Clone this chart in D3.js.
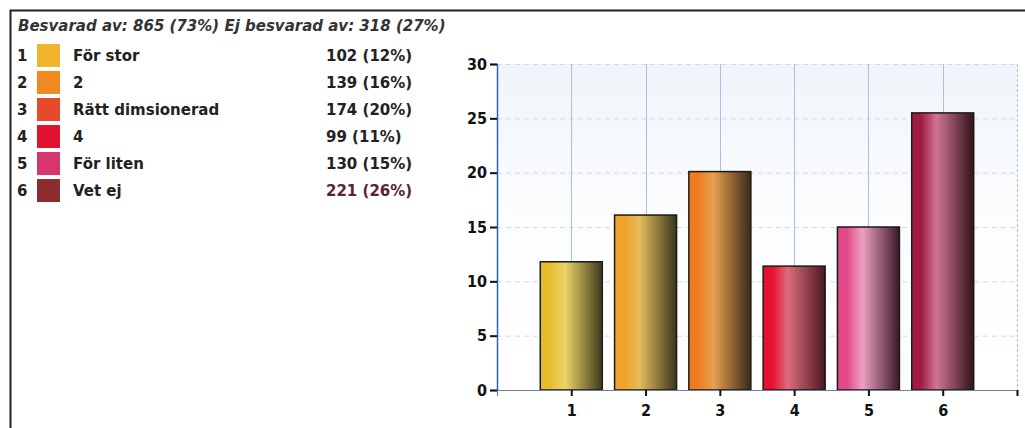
<!DOCTYPE html>
<html>
<head>
<meta charset="utf-8">
<script src="https://cdn.jsdelivr.net/npm/d3@7"></script>
<style>
  body { margin: 0; background: #fff; }
  svg { display: block; }
</style>
</head>
<body>
<div id="chart"></div>
<script>
// answer options, counts and share of answers (in %)
var categories = ['1', '2', '3', '4', '5', '6'];
var labels = ['För stor', '2', 'Rätt dimsionerad', '4', 'För liten', 'Vet ej'];
var counts = ['102 (12%)', '139 (16%)', '174 (20%)', '99 (11%)', '130 (15%)', '221 (26%)'];
var percents = [11.8, 16.1, 20.1, 11.4, 15.0, 25.5];
var yTicks = [0, 5, 10, 15, 20, 25, 30];
var title = 'Besvarad av: 865 (73%) Ej besvarad av: 318 (27%)';

var swatchColors = ['#f0b52c', '#f08a20', '#e8482c', '#e01232', '#d8346e', '#8c2c2c'];
// left / highlight / right colours for the shaded bars
var barShades = [
    ['#e6bc2c', '#ecd468', '#3c3a1c'],
    ['#f0a22a', '#e6bc5c', '#3a361c'],
    ['#f07a22', '#e6a050', '#3a2818'],
    ['#e8102e', '#dc6c7c', '#4a1820'],
    ['#e04888', '#eea0c0', '#3a1828'],
    ['#a01c40', '#d07494', '#301418']
];

var width = 1025, height = 428;
var svg = d3.select('#chart').append('svg')
    .attr('width', width)
    .attr('height', height);

// outer frame (only top and left edges are inside the picture)
svg.append('path')
    .attr('d', 'M10.5,' + height + 'V10.5H' + width)
    .attr('fill', 'none')
    .attr('stroke', '#222')
    .attr('stroke-width', 2);

svg.append('text')
    .attr('x', 18)
    .attr('y', 31)
    .attr('font-family', 'DejaVu Sans, Verdana, sans-serif')
    .attr('font-size', 15)
    .attr('font-weight', 'bold')
    .attr('font-style', 'italic')
    .attr('fill', '#333')
    .text(title);

// legend table
var rowY = d3.scaleBand().domain(categories).range([44, 202]).paddingInner(0.15);
var legend = svg.selectAll('g.legend')
    .data(categories)
    .enter().append('g')
    .attr('class', 'legend')
    .attr('font-family', 'DejaVu Sans, Verdana, sans-serif')
    .attr('font-size', 15)
    .attr('font-weight', 'bold')
    .attr('fill', '#222');

legend.append('text')
    .attr('x', 17)
    .attr('y', function (d) { return rowY(d) + rowY.bandwidth() / 2 + 5.5; })
    .text(function (d) { return d; });

legend.append('rect')
    .attr('x', 37)
    .attr('y', function (d) { return rowY(d); })
    .attr('width', 23)
    .attr('height', rowY.bandwidth())
    .attr('fill', function (d, i) { return swatchColors[i]; });

legend.append('text')
    .attr('x', 73)
    .attr('y', function (d) { return rowY(d) + rowY.bandwidth() / 2 + 5.5; })
    .text(function (d, i) { return labels[i]; });

legend.append('text')
    .attr('x', 326)
    .attr('y', function (d) { return rowY(d) + rowY.bandwidth() / 2 + 5.5; })
    .attr('fill', function (d, i) { return i === 5 ? '#5a2434' : '#222'; })
    .text(function (d, i) { return counts[i]; });

// bar chart
var plot = { left: 497, right: 1017, top: 64, bottom: 390 };
var x = d3.scaleLinear().domain([0, categories.length + 1]).range([plot.left, plot.right]);
var y = d3.scaleLinear().domain([0, 30]).range([plot.bottom, plot.top]);
var barWidth = 62;

var defs = svg.append('defs');
var bg = defs.append('linearGradient').attr('id', 'bg').attr('x1', 0).attr('y1', 0).attr('x2', 0).attr('y2', 1);
bg.append('stop').attr('offset', 0).attr('stop-color', '#f0f5fb');
bg.append('stop').attr('offset', 0.5).attr('stop-color', '#fcfdfe');
bg.append('stop').attr('offset', 1).attr('stop-color', '#ffffff');

svg.append('rect')
    .attr('x', plot.left)
    .attr('y', plot.top)
    .attr('width', plot.right - plot.left)
    .attr('height', plot.bottom - plot.top)
    .attr('fill', 'url(#bg)');

// horizontal grid
svg.append('g')
    .selectAll('line')
    .data(yTicks.slice(1))
    .enter().append('line')
    .attr('x1', plot.left)
    .attr('x2', plot.right)
    .attr('y1', function (d) { return y(d) + 0.5; })
    .attr('y2', function (d) { return y(d) + 0.5; })
    .attr('stroke', '#d4d8de')
    .attr('stroke-dasharray', '5,4');

// vertical grid at category centres and right edge
svg.append('g')
    .selectAll('line')
    .data(d3.range(1, categories.length + 2))
    .enter().append('line')
    .attr('x1', function (d) { return Math.round(x(d)) + 0.5; })
    .attr('x2', function (d) { return Math.round(x(d)) + 0.5; })
    .attr('y1', plot.top)
    .attr('y2', plot.bottom)
    .attr('stroke', '#a8c0e4')
    .attr('stroke-dasharray', function (d) { return d > categories.length ? '3,2' : null; });

barShades.forEach(function (s, i) {
    var g = defs.append('linearGradient').attr('id', 'bar' + i);
    g.append('stop').attr('offset', 0).attr('stop-color', s[0]);
    g.append('stop').attr('offset', 0.15).attr('stop-color', s[0]);
    g.append('stop').attr('offset', 0.4).attr('stop-color', s[1]);
    g.append('stop').attr('offset', 1).attr('stop-color', s[2]);
});

svg.append('g')
    .selectAll('rect')
    .data(percents)
    .enter().append('rect')
    .attr('x', function (d, i) { return x(i + 1) - barWidth / 2; })
    .attr('y', function (d) { return y(d); })
    .attr('width', barWidth)
    .attr('height', function (d) { return y(0) - y(d); })
    .attr('fill', function (d, i) { return 'url(#bar' + i + ')'; })
    .attr('stroke', '#1a1a1a')
    .attr('stroke-width', 1.5);

// axes
var tickFont = 'DejaVu Sans Condensed, Tahoma, sans-serif';
var yAxis = svg.append('g')
    .attr('transform', 'translate(' + plot.left + ',0)')
    .call(d3.axisLeft(y).tickValues(yTicks).tickSize(7).tickPadding(3));
yAxis.select('.domain').attr('stroke', '#2a62c0').attr('stroke-width', 1.5);
yAxis.selectAll('.tick line').attr('stroke', '#111').attr('stroke-width', 2);
yAxis.selectAll('text')
    .attr('font-family', tickFont)
    .attr('font-size', 16)
    .attr('font-weight', 'bold')
    .attr('fill', '#111');

var xAxis = svg.append('g')
    .attr('transform', 'translate(0,' + plot.bottom + ')')
    .call(d3.axisBottom(x)
        .tickValues(d3.range(1, categories.length + 2))
        .tickSize(6)
        .tickPadding(9)
        .tickFormat(function (d) { return categories[d - 1] || ''; }));
xAxis.select('.domain').attr('stroke', '#6f7f9a').attr('stroke-width', 1.2);
xAxis.selectAll('.tick line').attr('stroke', '#111').attr('stroke-width', 2);
xAxis.selectAll('text')
    .attr('font-family', tickFont)
    .attr('font-size', 16)
    .attr('font-weight', 'bold')
    .attr('fill', '#111');
</script>
</body>
</html>
